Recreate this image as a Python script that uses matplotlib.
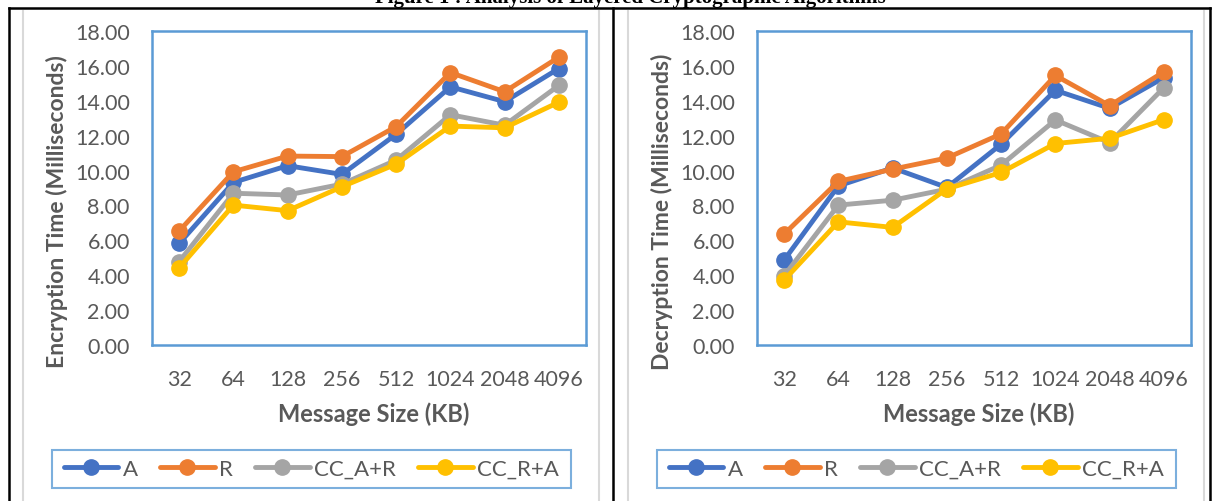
import numpy as np
import matplotlib
matplotlib.use("Agg")
import matplotlib.pyplot as plt
from matplotlib.lines import Line2D

plt.rcParams['font.family'] = ['Lato', 'DejaVu Sans']

sizes = ['32', '64', '128', '256', '512', '1024', '2048', '4096']
series_names = ['A', 'R', 'CC_A+R', 'CC_R+A']
colors = ['#4472C4', '#ED7D31', '#A5A5A5', '#FFC000']

# encryption times (ms)
enc_A = [5.82, 9.32, 10.28, 9.78, 12.08, 14.80, 13.95, 15.85]
enc_R = [6.53, 9.93, 10.83, 10.80, 12.52, 15.62, 14.52, 16.50]
enc_CC_AR = [4.78, 8.70, 8.60, 9.22, 10.60, 13.20, 12.60, 14.88]
enc_CC_RA = [4.42, 8.02, 7.70, 9.07, 10.37, 12.55, 12.45, 13.92]

# decryption times (ms)
dec_A = [4.87, 9.12, 10.15, 9.03, 11.51, 14.60, 13.57, 15.33]
dec_R = [6.36, 9.38, 10.08, 10.72, 12.10, 15.45, 13.72, 15.66]
dec_CC_AR = [3.97, 8.02, 8.30, 8.93, 10.31, 12.90, 11.60, 14.75]
dec_CC_RA = [3.72, 7.06, 6.74, 8.95, 9.89, 11.55, 11.85, 12.92]

W, H = 1213, 502
fig = plt.figure(figsize=(W / 100, H / 100), dpi=100)

grey = '#595959'


def px_axes(x0, y0, x1, y1):
    # pixel box (top-left origin) -> figure fraction axes
    return fig.add_axes([x0 / W, 1 - y1 / H, (x1 - x0) / W, (y1 - y0) / H])


def fline(xs, ys, **kw):
    fig.add_artist(Line2D([x / W for x in xs], [1 - y / H for y in ys],
                          transform=fig.transFigure, **kw))


def panel(x_off, data, ylabel):
    ax = px_axes(152 + x_off, 32, 586 + x_off, 346)
    x = np.arange(len(sizes))
    for vals, c, name in zip(data, colors, series_names):
        ax.plot(x, vals, color=c, lw=3.5, marker='o', ms=11, label=name,
                solid_capstyle='round')
    ax.set_xlim(-0.5, len(sizes) - 0.5)
    ax.set_ylim(0, 18)
    ax.set_yticks(np.arange(0, 18.1, 2))
    ax.set_yticklabels(['%.2f' % v for v in np.arange(0, 18.1, 2)])
    ax.set_xticks(x)
    ax.set_xticklabels(sizes)
    ax.tick_params(length=0, labelsize=15.5, colors=grey)
    ax.tick_params(axis='y', pad=16)
    ax.tick_params(axis='x', pad=17)
    for s in ax.spines.values():
        s.set_color('#5B9BD5')
        s.set_linewidth(1.8)
    fig.text((57 + x_off) / W, 1 - 212 / H, ylabel, rotation=90, ha='center',
             va='center', fontsize=16.5, fontweight='bold', color=grey)
    fig.text((374 + x_off) / W, 1 - 414 / H, 'Message Size (KB)', ha='center',
             va='center', fontsize=17, fontweight='bold', color=grey)
    leg = ax.legend(loc='center', ncol=4,
                    bbox_to_anchor=((52 + x_off) / W, 1 - 492 / H, 519 / W, 44 / H),
                    bbox_transform=fig.transFigure, fontsize=16, frameon=True,
                    fancybox=False, handlelength=2.45, handletextpad=0.2,
                    columnspacing=1.0, borderaxespad=0)
    leg.get_frame().set_edgecolor('#5B9BD5')
    leg.get_frame().set_linewidth(1.5)
    for t in leg.get_texts():
        t.set_color(grey)
    # stretch legend frame to the full box like the reference
    leg.set_bbox_to_anchor(((52 + x_off) / W, 1 - 492 / H, 519 / W, 44 / H),
                           transform=fig.transFigure)
    leg._mode = 'expand'
    return ax


panel(0, [enc_A, enc_R, enc_CC_AR, enc_CC_RA], 'Encryption Time (Milliseconds)')
panel(605, [dec_A, dec_R, dec_CC_AR, dec_CC_RA], 'Decryption Time (Milliseconds)')

# chart frames (light grey) and table borders (black)
for gx in [23, 599, 628, 1204]:
    fline([gx, gx], [12, H + 5], color='#D9D9D9', lw=1.5)
for bx in [9, 613, 1210]:
    fline([bx, bx], [9, H + 5], color='black', lw=1.8)
fline([9, 1210], [9, 9], color='black', lw=1.8)

fig.text(630 / W, 1 - 3 / H, 'Figure 1 : Analysis of Layered Cryptographic Algorithms',
         ha='center', va='baseline', fontsize=15, fontweight='bold',
         family=['Liberation Serif', 'DejaVu Serif'])

fig.savefig('out.png', dpi=100)
